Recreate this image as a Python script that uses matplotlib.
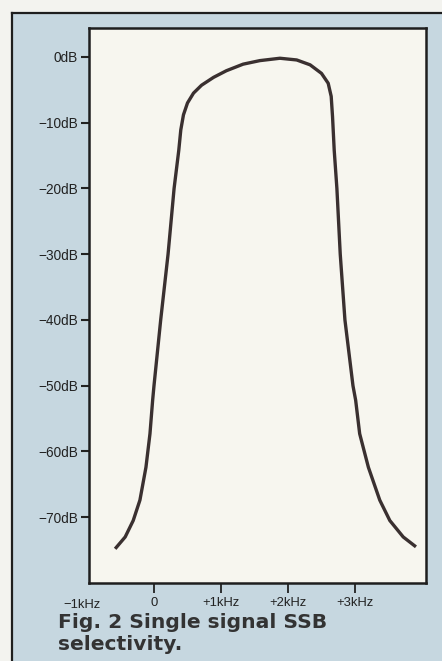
import numpy as np
import matplotlib
matplotlib.use('Agg')
import matplotlib.pyplot as plt
from matplotlib.lines import Line2D
from matplotlib.patches import Rectangle

plt.rcParams['font.family'] = ['Liberation Sans', 'DejaVu Sans']

# response curve (kHz, dB)
freq_khz = [-0.58, -0.43, -0.31, -0.21, -0.12, -0.06, -0.02, 0.00, 0.10, 0.21, 0.30,
            0.37, 0.40, 0.44, 0.50, 0.59, 0.71, 0.89, 1.08, 1.33, 1.58, 1.88,
            2.13, 2.33, 2.50, 2.60, 2.645, 2.665, 2.69, 2.73, 2.78, 2.85, 2.97,
            3.01, 3.07, 3.20, 3.37, 3.52, 3.72, 3.91]
level_db = [-74.8, -73.0, -70.5, -67.4, -62.4, -57.3, -52.2, -50.0, -40.0, -30.0, -20.0,
            -14.2, -11.1, -8.8, -7.0, -5.5, -4.3, -3.1, -2.1, -1.1, -0.56, -0.2,
            -0.46, -1.2, -2.5, -4.0, -6.0, -9.1, -14.2, -20.0, -30.0, -40.0, -50.0,
            -52.2, -57.3, -62.4, -67.4, -70.5, -73.0, -74.5]

y_ticks = [0, -10, -20, -30, -40, -50, -60, -70]
y_labels = ['0dB', '\u221210dB', '\u221220dB', '\u221230dB', '\u221240dB',
            '\u221250dB', '\u221260dB', '\u221270dB']
x_ticks = [0, 1, 2, 3]
x_labels = ['0', '+1kHz', '+2kHz', '+3kHz']
x_extra = -1
x_extra_label = '\u22121kHz'

W, H = 442, 661
fig = plt.figure(figsize=(W / 100, H / 100), dpi=100, facecolor='#f3f3ef')

# blue panel with a black rule on left and top
fig.add_artist(Rectangle((12 / W, 0), 1 - 12 / W, 1 - 13 / H, transform=fig.transFigure,
                         facecolor='#c6d7e0', edgecolor='none', zorder=0))
fig.add_artist(Line2D([12 / W, 12 / W], [0, 1 - 13 / H], transform=fig.transFigure,
                      color='#1e1e1e', lw=1.6))
fig.add_artist(Line2D([12 / W, 1], [1 - 13 / H, 1 - 13 / H], transform=fig.transFigure,
                      color='#1e1e1e', lw=1.6))

left, right, top, bottom = 89, 426, 28, 583
ax = fig.add_axes([left / W, 1 - bottom / H, (right - left) / W, (bottom - top) / H])
ax.set_facecolor('#f7f6ef')
ax.plot(freq_khz, level_db, color='#3a3030', lw=2.4, solid_joinstyle='round',
        solid_capstyle='butt')

ax.set_xlim(-0.97, 4.06)
ax.set_ylim(-80, 4.4)
ax.set_yticks(y_ticks)
ax.set_yticklabels(y_labels)
ax.set_xticks(x_ticks)
ax.set_xticklabels(x_labels)
ax.tick_params(axis='y', direction='out', length=6, width=1.5, pad=2,
               labelsize=9.8, colors='#222222')
ax.tick_params(axis='x', direction='out', length=7, width=1.3, pad=3,
               labelsize=9.4, colors='#222222')
for s in ax.spines.values():
    s.set_linewidth(1.8)
    s.set_color('#1e1e1e')

# -1kHz label sits outside the box, no tick
ax.text(x_extra - 0.07, -83.4, x_extra_label, ha='center', va='center', fontsize=9.4,
        color='#222222', clip_on=False)

cap = dict(fontsize=14.6, fontweight='bold', color='#333333', va='baseline',
           family='DejaVu Sans')
fig.text(58 / W, 1 - 628 / H, 'Fig. 2 Single signal SSB', **cap)
fig.text(58 / W, 1 - 650 / H, 'selectivity.', **cap)

fig.savefig('out.png', dpi=100, facecolor=fig.get_facecolor())
